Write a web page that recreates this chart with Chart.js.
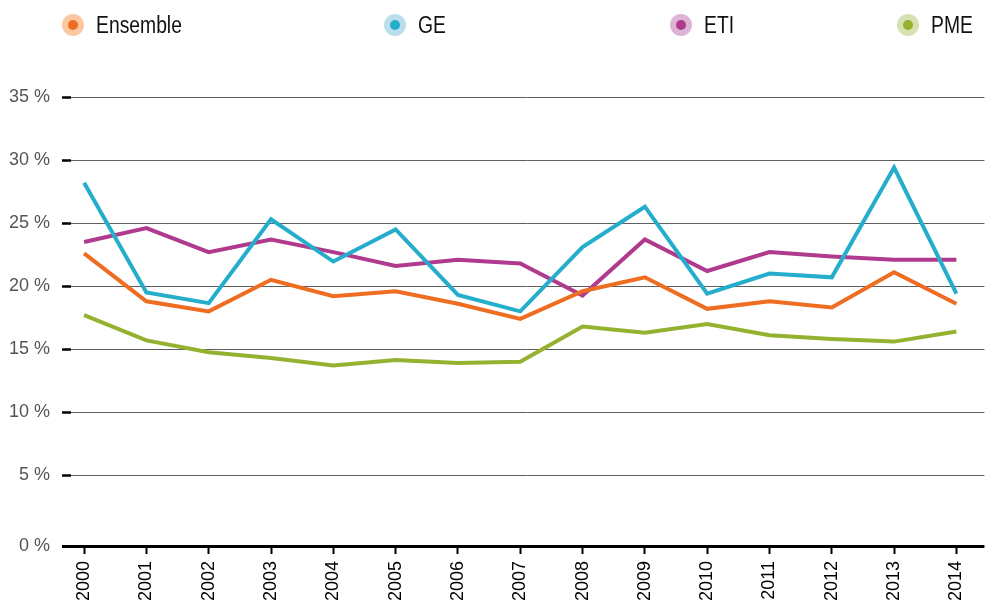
<!DOCTYPE html>
<html>
<head>
<meta charset="utf-8">
<script src="https://cdn.jsdelivr.net/npm/chart.js@4"></script>
<style>
  html, body { margin: 0; padding: 0; background: #fff; }
  #wrap { position: relative; width: 985px; height: 606px; }
  #chart { position: absolute; left: 0; top: 0; }
  .leg { position: absolute; top: 12px; height: 26px; display: flex; align-items: center;
         font-family: "Liberation Sans", Arial, sans-serif; font-size: 23px; color: #111; white-space: nowrap; }
  .leg .txt { display: inline-block; transform: scaleX(0.84); transform-origin: left center; }
  .dot { width: 22px; height: 22px; border-radius: 50%; position: relative; margin-right: 12px; flex: none; }
  .dot::after { content: ""; position: absolute; left: 6px; top: 6px; width: 10px; height: 10px; border-radius: 50%; background: var(--c); }
</style>
</head>
<body>
<div id="wrap">
  <canvas id="chart" width="985" height="606"></canvas>
  <div id="legend"></div>
</div>
<script>
const years = ["2000","2001","2002","2003","2004","2005","2006","2007","2008","2009","2010","2011","2012","2013","2014"];
const seriesNames = ["Ensemble", "GE", "ETI", "PME"];
const ensemble = [22.6, 18.8, 18.0, 20.5, 19.2, 19.6, 18.6, 17.4, 19.6, 20.7, 18.2, 18.8, 18.3, 21.1, 18.6];
const ge       = [28.2, 19.5, 18.65, 25.3, 21.95, 24.5, 19.3, 18.0, 23.1, 26.3, 19.4, 21.0, 20.7, 29.4, 19.4];
const eti      = [23.5, 24.6, 22.7, 23.7, 22.7, 21.6, 22.1, 21.8, 19.25, 23.7, 21.2, 22.7, 22.35, 22.1, 22.1];
const pme      = [17.7, 15.7, 14.75, 14.3, 13.7, 14.15, 13.9, 14.0, 16.8, 16.3, 17.0, 16.1, 15.8, 15.6, 16.4];
const yTicks = [0, 5, 10, 15, 20, 25, 30, 35];

const lineColors  = ["#EF6D20", "#25AECB", "#B03A8E", "#94B22F"];
const lightColors = ["#FBC8A1", "#BADFEA", "#DDB4D5", "#D7E1B2"];
const legendLeft = [62, 384, 670, 897];

// HTML legend
const legend = document.getElementById('legend');
seriesNames.forEach((n, i) => {
  const d = document.createElement('div');
  d.className = 'leg';
  d.style.left = legendLeft[i] + 'px';
  d.innerHTML = '<span class="dot" style="background:' + lightColors[i] + ';--c:' + lineColors[i] + '"></span><span class="txt">' + n + '</span>';
  legend.appendChild(d);
});

const allSeries = [ensemble, ge, eti, pme];
const Y_MIN = -0.61; // axis baseline sits slightly below the 0 % position in the reference
const datasets = allSeries.map((arr, i) => ({
  label: seriesNames[i],
  data: arr.map((v, k) => ({ x: k, y: v })),
  borderColor: lineColors[i],
  backgroundColor: lineColors[i],
  borderWidth: 4,
  pointRadius: 0,
  tension: 0,
  fill: false
}));

new Chart(document.getElementById('chart'), {
  type: 'line',
  data: { datasets },
  options: {
    responsive: false,
    animation: false,
    events: [],
    layout: { padding: { top: 97, right: 0, bottom: 0, left: 0 } },
    plugins: { legend: { display: false }, tooltip: { enabled: false } },
    scales: {
      x: {
        type: 'linear',
        min: -0.21,
        max: 14.45,
        afterBuildTicks: s => { s.ticks = years.map((_, i) => ({ value: i })); },
        afterFit: s => { s.height = 60; },
        border: { display: false },
        grid: { drawOnChartArea: false, drawTicks: true, tickLength: 8, tickColor: '#000', tickWidth: 2 },
        ticks: {
          autoSkip: false,
          minRotation: 90, maxRotation: 90,
          padding: 7,
          color: '#000',
          font: { family: '"Liberation Sans", Arial, sans-serif', size: 18 },
          callback: v => years[v]
        }
      },
      y: {
        type: 'linear',
        min: Y_MIN,
        max: 35,
        afterBuildTicks: s => { s.ticks = yTicks.map(v => ({ value: v === 0 ? Y_MIN : v })); },
        afterFit: s => { s.width = 71; },
        border: { display: false },
        grid: {
          color: c => (c.tick && c.tick.value < 0) ? '#000' : '#5f5f5f',
          lineWidth: c => (c.tick && c.tick.value < 0) ? 3 : 1,
          tickColor: '#000',
          tickWidth: c => (c.tick && c.tick.value < 0) ? 3 : 2.5,
          tickLength: 9
        },
        ticks: {
          padding: 12,
          color: '#555',
          font: { family: '"Liberation Sans", Arial, sans-serif', size: 18 },
          callback: v => (v < 0 ? 0 : v) + ' %'
        }
      }
    }
  }
});
</script>
</body>
</html>
